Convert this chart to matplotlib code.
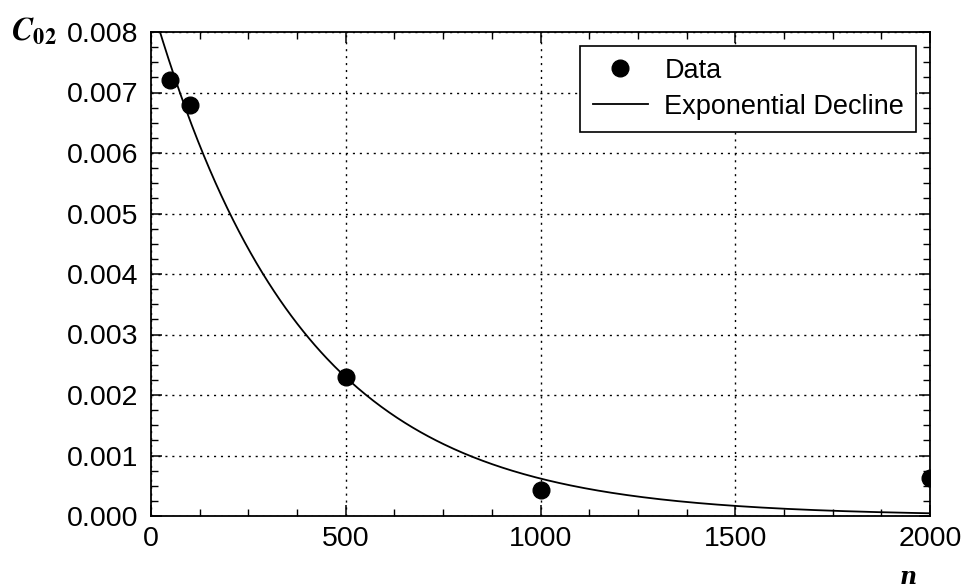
import numpy as np
import matplotlib.pyplot as plt
from matplotlib.ticker import MultipleLocator

# measured data
n_data = [50, 100, 500, 1000, 2000]
c02_data = [0.0072, 0.0068, 0.0023, 0.00043, 0.00062]

# exponential decline fit  c = a * exp(-b * n)
fit_a = 0.0085
fit_b = 0.00262

plt.rcParams['font.family'] = ['Liberation Sans', 'DejaVu Sans']

fig = plt.figure(figsize=(9.62, 5.88), dpi=100)
ax = fig.add_axes([151 / 962, 1 - 516 / 588, 779 / 962, 484 / 588])

n_fit = np.linspace(0, 2000, 400)
ax.plot(n_data, c02_data, 'o', color='black', markersize=12, label='Data')
ax.plot(n_fit, fit_a * np.exp(-fit_b * n_fit), '-', color='black', lw=1.3,
        label='Exponential Decline')

ax.set_xlim(0, 2000)
ax.set_ylim(0, 0.008)
ax.xaxis.set_major_locator(MultipleLocator(500))
ax.xaxis.set_minor_locator(MultipleLocator(125))
ax.yaxis.set_major_locator(MultipleLocator(0.001))
ax.yaxis.set_minor_locator(MultipleLocator(0.00025))
ax.yaxis.set_major_formatter(plt.FormatStrFormatter('%.3f'))
ax.tick_params(which='both', direction='in', top=True, right=True,
               labelsize=20.5, color='black')
ax.tick_params(which='major', length=8, width=1.1)
ax.tick_params(axis='y', which='major', pad=9)
ax.tick_params(axis='x', which='major', pad=7)
ax.tick_params(which='minor', length=5, width=1.0)
ax.grid(True, which='major', linestyle=(0, (1.5, 3.5)), color='black', lw=1.0)
for s in ax.spines.values():
    s.set_linewidth(1.3)

leg = ax.legend(loc='upper right', fontsize=19.5, frameon=True, fancybox=False,
                edgecolor='black', framealpha=1, borderpad=0.45,
                handlelength=2.05, handletextpad=0.6, labelspacing=0.37)
leg.get_frame().set_linewidth(1.2)

fig.text(11 / 962, 1 - 32 / 588, r'$\boldsymbol{C}_{\mathbf{02}}$', fontsize=23,
         va='center', ha='left', math_fontfamily='stix')
fig.text(908 / 962, 1 - 577 / 588, 'n', fontsize=17, family='DejaVu Serif',
         fontweight='bold', fontstyle='italic', va='center', ha='center')

fig.savefig('out.png', dpi=100)
